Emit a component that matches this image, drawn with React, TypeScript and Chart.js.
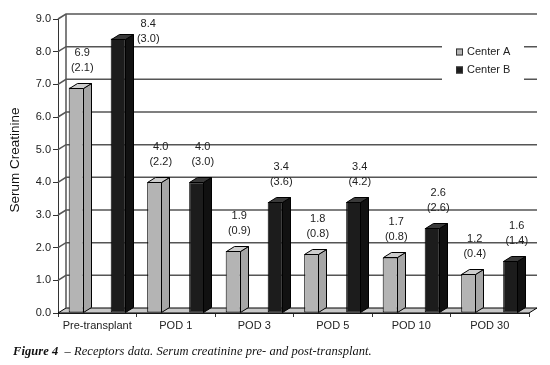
import React, { useEffect, useRef } from 'react';
import { Chart, registerables } from 'chart.js';

Chart.register(...registerables);

const categories = ['Pre-transplant', 'POD 1', 'POD 3', 'POD 5', 'POD 10', 'POD 30'];
const seriesNames = ['Center A', 'Center B'];
const centerAMean = [6.9, 4.0, 1.9, 1.8, 1.7, 1.2];
const centerASD = [2.1, 2.2, 0.9, 0.8, 0.8, 0.4];
const centerBMean = [8.4, 4.0, 3.4, 3.4, 2.6, 1.6];
const centerBSD = [3.0, 3.0, 3.6, 4.2, 2.6, 1.4];
const yMin = 0;
const yMax = 9;
const yStep = 1;
const yTitle = 'Serum Creatinine';

const FONT = '"Liberation Sans", Arial, sans-serif';
const DX = 8;
const DY = -5;
const faceColors = [
  { front: '#b4b4b4', side: '#a6a6a6', top: '#cdcdcd' },
  { front: '#1c1c1c', side: '#111111', top: '#3a3a3a' },
];
const sdSets = [centerASD, centerBSD];

function poly(ctx: CanvasRenderingContext2D, pts: number[][], fill: string) {
  ctx.beginPath();
  ctx.moveTo(pts[0][0], pts[0][1]);
  for (let i = 1; i < pts.length; i++) ctx.lineTo(pts[i][0], pts[i][1]);
  ctx.closePath();
  ctx.fillStyle = fill;
  ctx.fill();
  ctx.strokeStyle = '#000';
  ctx.lineWidth = 1;
  ctx.stroke();
}

const threeD = {
  id: 'threeD',
  beforeDatasetsDraw(chart: any) {
    const { ctx, chartArea, scales } = chart;
    const { left, right, bottom } = chartArea;
    const y = scales.y;
    ctx.save();
    // floor
    poly(ctx, [[left, bottom], [left + DX, bottom + DY], [right + DX, bottom + DY], [right, bottom]], '#c8c8c8');
    // grid on side wall and back wall
    ctx.strokeStyle = '#555';
    ctx.lineWidth = 1.5;
    const topPix = y.getPixelForValue(yMax);
    ctx.beginPath();
    ctx.moveTo(left + DX, topPix + DY);
    ctx.lineTo(left + DX, bottom + DY);
    ctx.stroke();
    y.ticks.forEach((t: any) => {
      if (t.value === yMin) return;
      const py = y.getPixelForValue(t.value);
      ctx.beginPath();
      ctx.moveTo(left, py);
      ctx.lineTo(left + DX, py + DY);
      ctx.lineTo(right + DX, py + DY);
      ctx.stroke();
    });
    ctx.restore();
  },
  afterDatasetsDraw(chart: any) {
    const { ctx, chartArea } = chart;
    ctx.save();
    chart.data.datasets.forEach((ds: any, di: number) => {
      const meta = chart.getDatasetMeta(di);
      const col = faceColors[di];
      meta.data.forEach((el: any, i: number) => {
        const p = el.getProps(['x', 'y', 'base', 'width'], true);
        const l = Math.round(p.x - p.width / 2) + 0.5;
        const r = Math.round(p.x + p.width / 2) - 0.5;
        const t = Math.round(p.y) + 0.5;
        const b = Math.round(p.base) - 0.5;
        poly(ctx, [[r, t], [r + DX, t + DY], [r + DX, b + DY], [r, b]], col.side);
        poly(ctx, [[l, t], [l + DX, t + DY], [r + DX, t + DY], [r, t]], col.top);
        // data labels
        let lx = p.x + 6;
        let ly = p.y - 35;
        if (ly < chartArea.top + 5) {
          ly = chartArea.top + 5;
          lx = p.x + 30;
        }
        ctx.fillStyle = '#222';
        ctx.font = `11px ${FONT}`;
        ctx.textAlign = 'center';
        ctx.textBaseline = 'middle';
        ctx.fillText(ds.data[i].toFixed(1), lx, ly);
        ctx.fillText(`(${sdSets[di][i].toFixed(1)})`, lx, ly + 15);
      });
    });
    ctx.restore();
  },
  afterDraw(chart: any) {
    const { ctx, chartArea } = chart;
    ctx.save();
    // legend
    const bx = chartArea.right - 87;
    const by = chartArea.top + 20;
    ctx.fillStyle = '#fff';
    ctx.fillRect(bx, by, 82, 46);
    chart.data.datasets.forEach((ds: any, di: number) => {
      const cy = by + 13 + di * 18;
      ctx.fillStyle = faceColors[di].front;
      ctx.fillRect(bx + 14, cy - 3.5, 7, 7);
      ctx.strokeStyle = '#333';
      ctx.lineWidth = 1;
      ctx.strokeRect(bx + 14.5, cy - 3, 6, 6);
      ctx.fillStyle = '#222';
      ctx.font = `11px ${FONT}`;
      ctx.textAlign = 'left';
      ctx.textBaseline = 'middle';
      ctx.fillText(ds.label, bx + 25, cy);
    });
    // y title
    ctx.translate(15, 160);
    ctx.rotate(-Math.PI / 2);
    ctx.fillStyle = '#111';
    ctx.font = `13.5px ${FONT}`;
    ctx.textAlign = 'center';
    ctx.textBaseline = 'middle';
    ctx.fillText(yTitle, 0, 0);
    ctx.restore();
  },
};

export default function App() {
  const ref = useRef<HTMLCanvasElement | null>(null);
  useEffect(() => {
    if (!ref.current) return;
    const chart = new Chart(ref.current, {
      type: 'bar',
      data: {
        labels: categories,
        datasets: [
          {
            label: seriesNames[0],
            data: centerAMean,
            backgroundColor: faceColors[0].front,
            borderColor: '#000',
            borderWidth: 1,
            borderSkipped: false,
          },
          {
            label: seriesNames[1],
            data: centerBMean,
            backgroundColor: faceColors[1].front,
            borderColor: '#000',
            borderWidth: 1,
            borderSkipped: false,
          },
        ],
      },
      options: {
        responsive: false,
        animation: false,
        devicePixelRatio: 1,
        layout: { padding: { left: 0, right: 21, top: 19, bottom: 32 } },
        datasets: { bar: { categoryPercentage: 1.07, barPercentage: 0.36 } },
        plugins: { legend: { display: false }, tooltip: { enabled: false }, title: { display: false } },
        scales: {
          x: {
            afterFit: (s: any) => { s.height = 20; },
            grid: { display: true, drawOnChartArea: false, drawTicks: true, tickLength: 4, color: '#333', offset: true },
            border: { display: true, color: '#333', width: 1 },
            ticks: { color: '#222', font: { family: FONT, size: 11 }, padding: 2, maxRotation: 0 },
          },
          y: {
            min: yMin,
            max: yMax,
            afterFit: (s: any) => { s.width = 58; },
            grid: { display: true, drawOnChartArea: false, drawTicks: true, tickLength: 5, color: '#333' },
            border: { display: true, color: '#333', width: 1 },
            ticks: {
              stepSize: yStep,
              color: '#222',
              font: { family: FONT, size: 11 },
              padding: 2,
              callback: (v: any) => Number(v).toFixed(1),
            },
          },
        },
      },
      plugins: [threeD],
    } as any);
    return () => chart.destroy();
  }, []);

  return (
    <div style={{ position: 'fixed', left: 0, top: 0, width: 550, height: 365, background: '#fff' }}>
      <canvas ref={ref} width={550} height={365} style={{ width: 550, height: 365, display: 'block' }} />
      <div
        style={{
          position: 'absolute',
          left: 13,
          top: 344,
          fontFamily: '"Liberation Serif", "Times New Roman", serif',
          fontStyle: 'italic',
          fontSize: 12.5,
          lineHeight: '15px',
          letterSpacing: '0.05px',
          whiteSpace: 'pre',
          color: '#111',
        }}
      >
        <b>Figure 4</b>{'  – Receptors data. Serum creatinine pre- and post-transplant.'}
      </div>
    </div>
  );
}
